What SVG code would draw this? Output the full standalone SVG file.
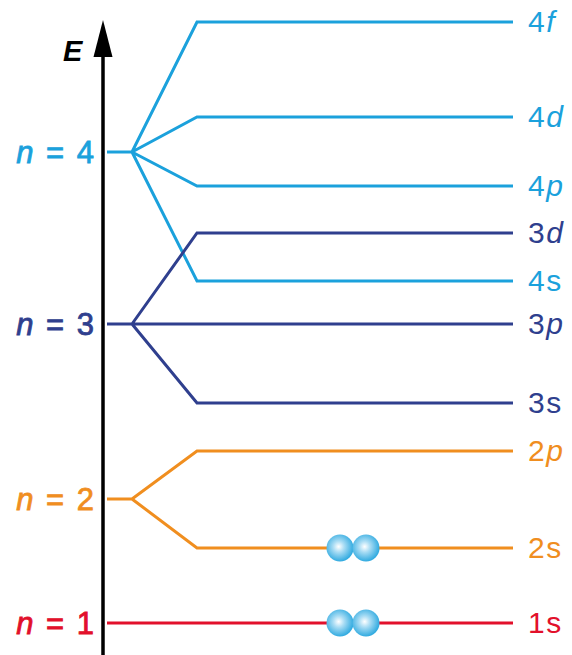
<svg xmlns="http://www.w3.org/2000/svg" width="572" height="655" viewBox="0 0 572 655">
<defs>
<radialGradient id="eg" cx="0.45" cy="0.45" r="0.6">
<stop offset="0" stop-color="#ffffff"/>
<stop offset="0.35" stop-color="#a8dcf4"/>
<stop offset="1" stop-color="#1fa3dd"/>
</radialGradient>
<style>
.l{fill:none;stroke-width:3;stroke-linejoin:miter}
.c4{stroke:#1ba1dc}.c3{stroke:#2f3f8e}.c2{stroke:#f08e1f}.c1{stroke:#e2102b}
.t4{fill:#1ba1dc}.t3{fill:#2f3f8e}.t2{fill:#f08e1f}.t1{fill:#e2102b}
.r{font-family:"Liberation Sans",Arial,sans-serif;font-size:30px;letter-spacing:1.5px}
.n{font-family:"Liberation Sans",Arial,sans-serif;font-size:31px;word-spacing:4px;text-anchor:end;stroke-width:0.8px}
.n.t4{stroke:#1ba1dc}.n.t3{stroke:#2f3f8e}.n.t2{stroke:#f08e1f}.n.t1{stroke:#e2102b}
.e{fill:url(#eg)}
</style>
</defs>
<g id="axis">
<line x1="103" y1="655" x2="103" y2="52" stroke="#000" stroke-width="3.5"/>
<polygon points="103,20 93.5,57 112.5,57" fill="#000"/>
<text x="63" y="61" font-family="Liberation Sans,Arial,sans-serif" font-size="29" font-weight="bold" font-style="italic">E</text>
</g>
<g id="connectors">
<path class="l c4" d="M107,152 H132 L197,22 H513 M132,152 L197,117 H513 M132,152 L197,186 H513 M132,152 L197,281 H513"/>
<path class="l c3" d="M107,324 H513 M132,324 L197,233 H513 M132,324 L197,403 H513"/>
<path class="l c2" d="M107,499 H132 L197,451 H513 M132,499 L197,548 H513"/>
<path class="l c1" d="M107,623 H513"/>
</g>
<g id="n4"><text class="n t4" x="94" y="163"><tspan font-style="italic">n</tspan> = 4</text></g>
<g id="n3"><text class="n t3" x="94" y="335"><tspan font-style="italic">n</tspan> = 3</text></g>
<g id="n2"><text class="n t2" x="94" y="510"><tspan font-style="italic">n</tspan> = 2</text></g>
<g id="n1"><text class="n t1" x="94" y="634"><tspan font-style="italic">n</tspan> = 1</text></g>
<g id="l4f"><text class="r t4" x="528" y="32">4<tspan font-style="italic">f</tspan></text></g>
<g id="l4d"><text class="r t4" x="528" y="127">4<tspan font-style="italic">d</tspan></text></g>
<g id="l4p"><text class="r t4" x="528" y="196">4<tspan font-style="italic">p</tspan></text></g>
<g id="l3d"><text class="r t3" x="528" y="243">3<tspan font-style="italic">d</tspan></text></g>
<g id="l4s"><text class="r t4" x="528" y="291">4s</text></g>
<g id="l3p"><text class="r t3" x="528" y="334">3<tspan font-style="italic">p</tspan></text></g>
<g id="l3s"><text class="r t3" x="528" y="413">3s</text></g>
<g id="l2p"><text class="r t2" x="528" y="461">2<tspan font-style="italic">p</tspan></text></g>
<g id="l2s"><text class="r t2" x="528" y="558">2s</text></g>
<g id="l1s"><text class="r t1" x="528" y="633">1s</text></g>
<g id="e2s"><circle class="e" cx="340" cy="548" r="13.5"/><circle class="e" cx="366" cy="548" r="13.5"/></g>
<g id="e1s"><circle class="e" cx="340" cy="623" r="13.5"/><circle class="e" cx="366" cy="623" r="13.5"/></g>
</svg>
